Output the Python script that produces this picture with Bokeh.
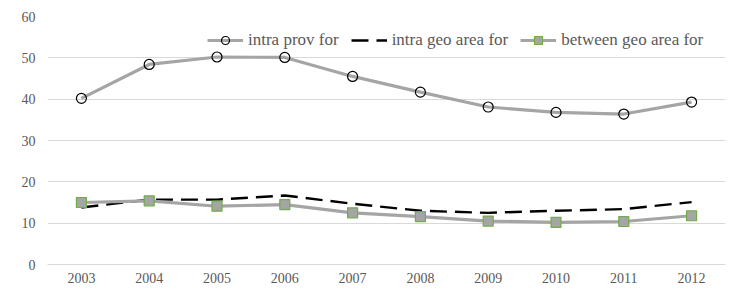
from bokeh.plotting import figure
from bokeh.models import FactorRange, Range1d, Legend, LegendItem, FixedTicker
from bokeh.embed import file_html
from bokeh.resources import INLINE

years = ["2003", "2004", "2005", "2006", "2007", "2008", "2009", "2010", "2011", "2012"]
intra_prov = [40.2, 48.4, 50.2, 50.1, 45.5, 41.7, 38.1, 36.8, 36.4, 39.3]
intra_geo = [13.8, 15.7, 15.7, 16.7, 14.7, 13.0, 12.5, 13.0, 13.4, 15.1]
between_geo = [15.0, 15.4, 14.1, 14.5, 12.5, 11.6, 10.5, 10.2, 10.4, 11.8]
y_ticks = [0, 10, 20, 30, 40, 50, 60]
series_names = ["intra prov for", "intra geo area for", "between geo area for"]

FONT = "Liberation Serif"
GRID = "#d9d9d9"
LABEL = "#595959"

p = figure(width=741, height=292, x_range=FactorRange(*years), y_range=Range1d(0, 60),
           output_backend="svg", toolbar_location=None,
           min_border_left=47, min_border_right=16, min_border_top=16, min_border_bottom=28)
p.outline_line_color = None

p.xgrid.grid_line_color = None
p.ygrid.grid_line_color = GRID
p.ygrid.grid_line_width = 1
p.yaxis.ticker = FixedTicker(ticks=y_ticks)
p.yaxis.axis_line_color = None
p.yaxis.major_tick_line_color = None
p.yaxis.minor_tick_line_color = None
p.yaxis.major_tick_out = 0
p.yaxis.major_label_standoff = 12
p.xaxis.axis_line_color = GRID
p.xaxis.major_tick_line_color = None
p.xaxis.minor_tick_line_color = None
p.xaxis.major_tick_out = 0
p.xaxis.major_label_standoff = 8
for ax in (p.xaxis, p.yaxis):
    ax.major_label_text_font = FONT
    ax.major_label_text_font_size = "14px"
    ax.major_label_text_color = LABEL

l1 = p.line(years, intra_prov, line_color="#a5a5a5", line_width=3.2)
c1 = p.scatter(years, intra_prov, marker="circle", size=10, fill_alpha=0,
               line_color="black", line_width=1.2)
l2 = p.line(years, intra_geo, line_color="black", line_width=2.4, line_dash="17 8")
l3 = p.line(years, between_geo, line_color="#a5a5a5", line_width=3.2)
c3 = p.scatter(years, between_geo, marker="square", size=10, fill_color="#a5a5a5",
               line_color="#70ad47", line_width=1.2)

legend = Legend(items=[
    LegendItem(label=series_names[0], renderers=[l1, c1]),
    LegendItem(label=series_names[1], renderers=[l2]),
    LegendItem(label=series_names[2], renderers=[l3, c3]),
], orientation="horizontal", location=(160, 214))
legend.background_fill_alpha = 0
legend.border_line_color = None
legend.label_text_font = FONT
legend.label_text_font_size = "17px"
legend.label_text_color = LABEL
legend.glyph_width = 36
legend.label_standoff = 5
legend.spacing = 12
legend.padding = 0
legend.margin = 0
p.add_layout(legend)

open("out.html", "w").write(file_html(p, INLINE))
